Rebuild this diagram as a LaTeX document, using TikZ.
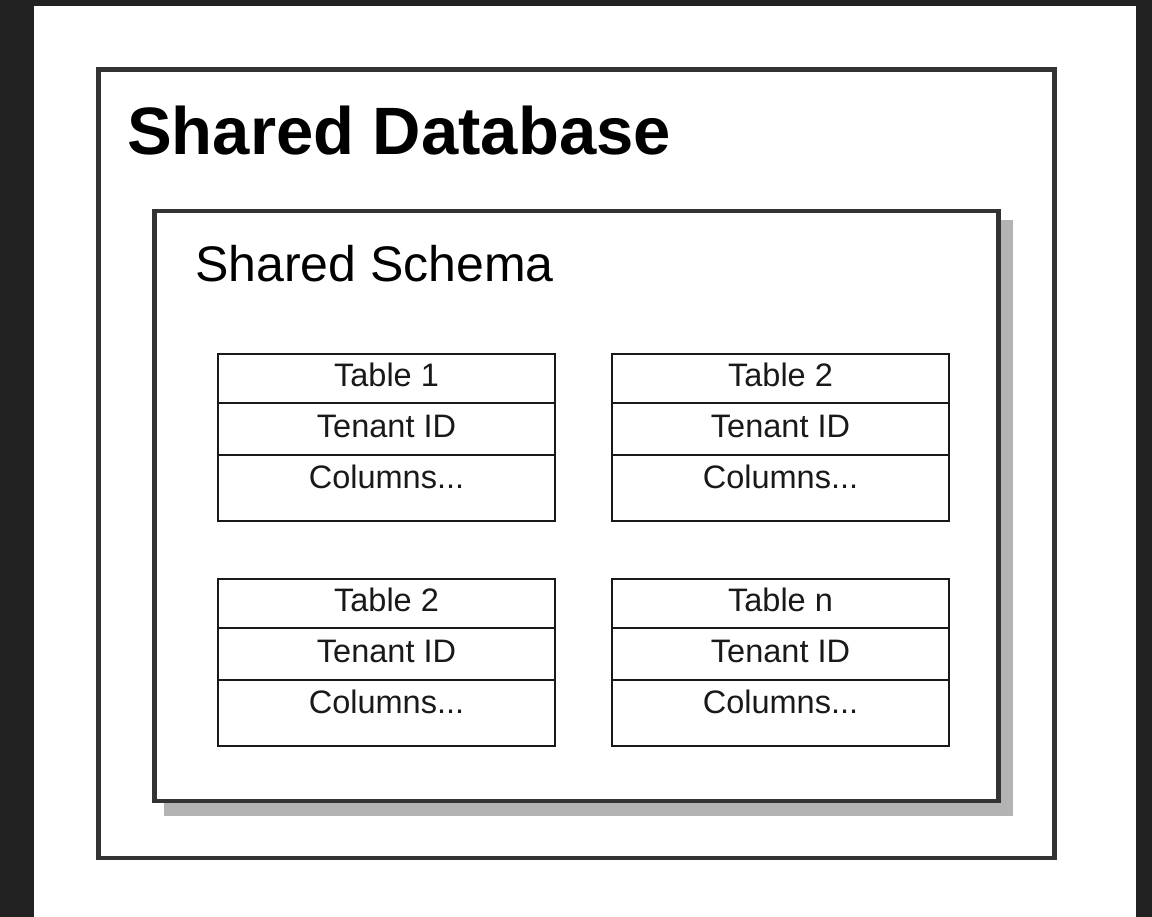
\documentclass[tikz,border=0pt]{standalone}
\usepackage{fontspec}
\setmainfont{Liberation Sans}
\definecolor{bgdark}{HTML}{222222}
\definecolor{boxline}{HTML}{333333}
\definecolor{shadowgrey}{HTML}{B3B3B3}
\newcommand\dbtable[4]{%
  \node[rowbox, minimum height=49.5pt, anchor=north west] (#1-a) at (#2,#3) {};
  \node[rowbox, minimum height=51.5pt, anchor=north west] (#1-b) at (#1-a.south west) {};
  \node[rowbox, minimum height=66pt, anchor=north west] (#1-c) at (#1-b.south west) {};
  \node[celltext] (#1-at) at ([yshift=-33pt]#1-a.north) {#4};
  \node[celltext] (#1-bt) at ([yshift=-34pt]#1-b.north) {Tenant ID};
  \node[celltext] (#1-ct) at ([yshift=-33.5pt]#1-c.north) {Columns...};
}
\begin{document}
\begin{tikzpicture}[x=1pt,y=-1pt,
  outerbox/.style={draw=boxline, line width=4.5pt, rectangle, inner sep=0pt, outer sep=0pt},
  rowbox/.style={draw=black!90, line width=2pt, rectangle, minimum width=337pt, inner sep=0pt, outer sep=0pt},
  celltext/.style={anchor=base, inner sep=0pt, font=\fontsize{32.5}{38}\selectfont, text=black!90}]
\useasboundingbox (0,0) rectangle (1152,917);
\fill[bgdark] (0,0) rectangle (1152,917);
\fill[white] (34,6) rectangle (1136,917);
% outer database box
\node[outerbox, minimum width=956pt, minimum height=788.5pt, anchor=north west] (db) at (98.5,69.5) {};
\node[anchor=base west, inner sep=0pt, font=\fontsize{67}{80}\selectfont\bfseries] (dbtitle) at (127,155) {Shared Database};
% shadow and schema box
\fill[shadowgrey] (164,220) rectangle (1013,816);
\node[outerbox, fill=white, minimum width=844pt, minimum height=590pt, anchor=north west] (schema) at (154.5,211) {};
\node[anchor=base west, inner sep=0pt, font=\fontsize{50}{60}\selectfont] (schematitle) at (195,282) {Shared Schema};
% tables
\dbtable{t1}{218}{354}{Table 1}
\dbtable{t2}{612}{354}{Table 2}
\dbtable{t3}{218}{578.5}{Table 2}
\dbtable{t4}{612}{578.5}{Table n}
\end{tikzpicture}
\end{document}
